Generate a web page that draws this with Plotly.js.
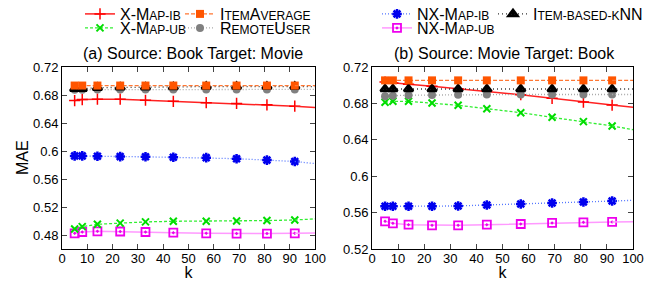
<!DOCTYPE html>
<html><head><meta charset="utf-8">
<script src="https://cdn.plot.ly/plotly-3.0.1.min.js"></script>
<style>body{margin:0;padding:0;background:#fff}#c{width:662px;height:281px}</style>
</head><body><div id="c"></div>
<script>
var K = [5, 8, 14, 23, 33, 44, 57, 69, 81, 92, 100];
var SC = 'font-size:12px';
var names = [
  'X-M<span style="'+SC+'">AP-IB</span>',
  'X-M<span style="'+SC+'">AP-UB</span>',
  'I<span style="'+SC+'">TEM</span>A<span style="'+SC+'">VERAGE</span>',
  'R<span style="'+SC+'">EMOTE</span>U<span style="'+SC+'">SER</span>',
  'NX-M<span style="'+SC+'">AP-IB</span>',
  'NX-M<span style="'+SC+'">AP-UB</span>',
  'I<span style="'+SC+'">TEM-BASED-K</span>NN'
];
// (a) Source: Book Target: Movie
var A_xmapIB  = [0.672, 0.6735, 0.674, 0.674, 0.6725, 0.671, 0.669, 0.668, 0.666, 0.664, 0.662];
var A_xmapUB  = [0.4886, 0.492, 0.4953, 0.497, 0.4987, 0.4996, 0.4996, 0.500, 0.5006, 0.5015, 0.503];
var A_itemAvg = [0.6935, 0.6935, 0.6935, 0.6935, 0.6935, 0.6935, 0.6935, 0.6935, 0.6935, 0.6935, 0.6935];
var A_remote  = [0.6875, 0.6875, 0.688, 0.688, 0.688, 0.688, 0.688, 0.688, 0.688, 0.688, 0.688];
var A_nxIB    = [0.593, 0.593, 0.5926, 0.592, 0.5917, 0.591, 0.5905, 0.589, 0.587, 0.585, 0.582];
var A_nxUB    = [0.4824, 0.4843, 0.4853, 0.485, 0.4843, 0.4833, 0.4824, 0.482, 0.482, 0.4824, 0.483];
var A_knn     = [0.689, 0.689, 0.6905, 0.691, 0.691, 0.6915, 0.692, 0.692, 0.692, 0.692, 0.692];
// (b) Source: Movie Target: Book
var B_xmapIB  = [0.7035, 0.7025, 0.701, 0.6988, 0.6962, 0.6936, 0.6896, 0.6856, 0.6815, 0.6782, 0.6757];
var B_xmapUB  = [0.6812, 0.6823, 0.6823, 0.6804, 0.6779, 0.6742, 0.6698, 0.6647, 0.660, 0.6552, 0.6511];
var B_itemAvg = [0.7053, 0.7053, 0.7053, 0.7053, 0.7053, 0.7053, 0.7053, 0.7053, 0.7053, 0.7053, 0.7053];
var B_remote  = [0.6878, 0.6885, 0.689, 0.6893, 0.6896, 0.6898, 0.6898, 0.6898, 0.6898, 0.6898, 0.6898];
var B_nxIB    = [0.5669, 0.5669, 0.5669, 0.5669, 0.5673, 0.5684, 0.5694, 0.5705, 0.5716, 0.5727, 0.5735];
var B_nxUB    = [0.5504, 0.5482, 0.5467, 0.546, 0.546, 0.5467, 0.5475, 0.5486, 0.5493, 0.5497, 0.550];
var B_knn     = [0.6958, 0.6958, 0.6958, 0.6958, 0.6958, 0.6958, 0.6958, 0.6958, 0.6958, 0.6958, 0.6958];

var A_ticks = [0.48, 0.52, 0.56, 0.6, 0.64, 0.68, 0.72];
var A_tickText = ['0.48', '0.52', '0.56', '0.6', '0.64', '0.68', '0.72'];
var B_ticks = [0.52, 0.56, 0.6, 0.64, 0.68, 0.72];
var B_tickText = ['0.52', '0.56', '0.6', '0.64', '0.68', '0.72'];
var X_ticks = [0, 10, 20, 30, 40, 50, 60, 70, 80, 90, 100];

var styles = [
  {line:{color:'#ff2222', width:1.5, dash:'solid'}, marker:{symbol:'cross-thin', size:8, color:'#ff0000', line:{color:'#ff0000', width:1.5}}},
  {line:{color:'#33ee33', width:1.3, dash:'3px,2px'}, marker:{symbol:'x-thin', size:7, color:'#00dd00', line:{color:'#00dd00', width:2}}},
  {line:{color:'#ff7733', width:1.3, dash:'4px,2px'}, marker:{symbol:'square', size:8, color:'#ff5500'}},
  {line:{color:'#aaaaaa', width:1.3, dash:'1px,2px'}, marker:{symbol:'circle', size:8, color:'#808080'}},
  {line:{color:'#5577ff', width:1.3, dash:'1px,2px'}, marker:{symbol:'asterisk-open', size:8, color:'#0000ee', line:{color:'#0000ee', width:2.5}}},
  {line:{color:'#ff99ff', width:1.5, dash:'solid'}, marker:{symbol:'square-open-dot', size:8, color:'#ee00ee', line:{color:'#ee00ee', width:1.8}}},
  {line:{color:'#333333', width:1.3, dash:'1px,3px'}, marker:{symbol:'triangle-up-open-dot', size:8, color:'#000000', line:{color:'#000000', width:2.5}}}
];
var A = [A_xmapIB, A_xmapUB, A_itemAvg, A_remote, A_nxIB, A_nxUB, A_knn];
var B = [B_xmapIB, B_xmapUB, B_itemAvg, B_remote, B_nxIB, B_nxUB, B_knn];
var legendIds = ['legend','legend2','legend3','legend4','legend5','legend6','legend7'];
var order = [5, 1, 4, 0, 3, 6, 2];
var n = K.length;
var data = [];
[[A,'x','y'],[B,'x2','y2']].forEach(function(p, pi){
  order.forEach(function(i){
    // marked points (all but the last), line continues to k=100 without a marker
    data.push({x:K.slice(0,n-1), y:p[0][i].slice(0,n-1), name:names[i], mode:'lines+markers', xaxis:p[1], yaxis:p[2],
      line:styles[i].line, marker:styles[i].marker, legend:legendIds[i], showlegend:pi===0});
    data.push({x:K.slice(n-2), y:p[0][i].slice(n-2), mode:'lines', xaxis:p[1], yaxis:p[2],
      line:styles[i].line, showlegend:false});
  });
});

var font = {family:'Liberation Sans, Arial, sans-serif', size:13, color:'#000'};
var bigFont = {family:'Liberation Sans, Arial, sans-serif', size:16, color:'#000'};
function xax(dom){ return {domain:dom, range:[0,100], tickvals:X_ticks, ticks:'inside', ticklen:5, mirror:'ticks',
  showline:true, linecolor:'#000', linewidth:1, showgrid:false, zeroline:false, tickfont:font, ticklabelstandoff:-3,
  title:{text:'k', font:bigFont, standoff:0}}; }
function yax(range, tv, tt, anchor){ return {range:range, tickvals:tv, ticktext:tt, ticks:'inside', ticklen:5, mirror:'ticks',
  showline:true, linecolor:'#000', linewidth:1, showgrid:false, zeroline:false, tickfont:font, anchor:anchor}; }

function px(x){ return (x-62)/571; }
function py(y){ return (249-y)/182; }
// legend text start x, row center y (pixels)
var legPos = [[120,14],[120,28],[220,14],[220,28],[417,14],[417,28],[533,14]];
var layout = {
  width:662, height:281, margin:{l:62, r:29, t:67, b:32, autoexpand:false},
  paper_bgcolor:'#fff', plot_bgcolor:'#fff', font:font,
  xaxis: xax([0, 0.4431]),
  yaxis: yax([0.46,0.72], A_ticks, A_tickText, 'x'),
  xaxis2: Object.assign(xax([0.5429, 1]), {anchor:'y2'}),
  yaxis2: yax([0.52,0.72], B_ticks, B_tickText, 'x2'),
  annotations:[
    {text:'(a) Source: Book Target: Movie', xref:'paper', yref:'paper', x:px(193), y:py(53), showarrow:false, font:bigFont, xanchor:'center', yanchor:'middle'},
    {text:'(b) Source: Movie Target: Book', xref:'paper', yref:'paper', x:px(504), y:py(53), showarrow:false, font:bigFont, xanchor:'center', yanchor:'middle'},
    {text:'MAE', xref:'paper', yref:'paper', x:px(22), y:py(158), textangle:-90, showarrow:false, font:bigFont, xanchor:'center', yanchor:'middle'}
  ]
};
legendIds.forEach(function(id, i){
  layout[id] = {xref:'container', yref:'container', x:(legPos[i][0]-40)/662, y:1-(legPos[i][1])/281, xanchor:'left', yanchor:'middle',
    bgcolor:'rgba(0,0,0,0)', borderwidth:0, font:bigFont, tracegroupgap:0, itemwidth:30};
});
Plotly.newPlot('c', data, layout, {staticPlot:true, displayModeBar:false});
</script></body></html>
